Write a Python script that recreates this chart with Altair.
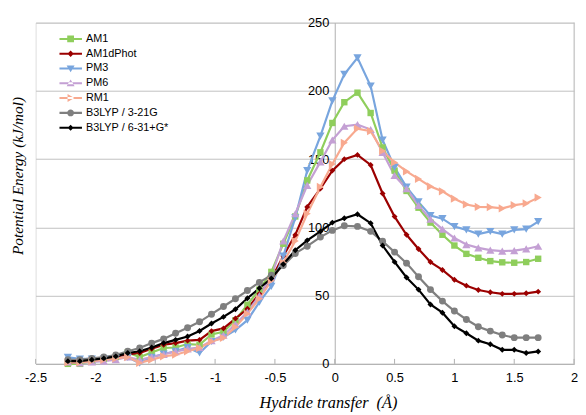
import altair as alt
import pandas as pd

x_vals = [-2.23, -2.13, -2.03, -1.93, -1.83, -1.73, -1.63, -1.53, -1.43, -1.33,
          -1.23, -1.13, -1.03, -0.93, -0.83, -0.73, -0.63, -0.53, -0.43, -0.33,
          -0.23, -0.12, -0.02, 0.08, 0.19, 0.30, 0.40, 0.50, 0.60, 0.70,
          0.80, 0.90, 1.00, 1.10, 1.20, 1.30, 1.40, 1.50, 1.60, 1.70]

series_names = ["AM1", "AM1dPhot", "PM3", "PM6", "RM1", "B3LYP / 3-21G", "B3LYP / 6-31+G*"]

am1 = [0, 0, 2, 3.6, 5, 8.4, 5, 8.4, 11.6, 12, 14.5, 14, 21.5, 23.5, 32, 43.3, 54.4, 67.4, 88, 108,
       134.4, 155, 176.5, 191.7, 198.7, 183.8, 158.5, 141.6, 126.7, 114.4, 103.5, 94.6, 86.7, 80.6,
       77.7, 75.3, 74.4, 74.1, 74.6, 77]
am1dphot = [1, 1, 2, 3, 5, 7, 8, 11, 14, 15.2, 17, 17.6, 24, 26, 33.2, 40.4, 51.3, 62.1, 79, 94.5,
            115, 128.4, 141.6, 150, 153.1, 145.7, 124.8, 107.9, 94.6, 84.2, 74.6, 68.8, 61.6, 57.3,
            54.1, 52.5, 51.3, 51.3, 51.7, 52.9]
pm3 = [4.8, 3.6, 3.6, 3.6, 4, 4.8, 0.5, 4.8, 7.2, 9.2, 12, 8, 16.4, 19.5, 24.8, 32, 45.2, 56.8, 79, 107,
       141.6, 166.9, 192.7, 212.2, 224.2, 203.5, 164, 144, 129.5, 118.7, 108.6, 106.4, 100.6, 98.2,
       95.1, 97, 95.1, 98.2, 98.7, 104.2]
pm6 = [1.4, 0.7, 1.5, 2, 3, 5, 3, 5, 7, 9, 11, 12, 17, 21, 29, 38, 50, 64, 90, 110,
       130.8, 148, 164, 174.1, 175.3, 171.7, 154.9, 138, 128.3, 116, 106, 98.7, 92.2, 87.4,
       85, 83.3, 82.6, 83, 84.2, 86.2]
rm1 = [1, 1, 2, 3, 4, 5, 0.7, 3.1, 5.5, 6.7, 9.2, 11.6, 16.4, 19, 27, 36.8, 47.7, 60.9, 74.2, 90,
       110, 129.6, 146.4, 162, 172.4, 170.5, 156, 147.6, 141, 135.5, 130, 126.4, 121, 116.8,
       115, 114.8, 113.9, 116.3, 117.5, 121.8]
b3lyp_321 = [3, 3, 4, 5, 6.5, 9.2, 11.6, 15.2, 18.3, 22.4, 26.5, 30.8, 36.4, 42, 47.7, 53.7, 59.7, 65, 72, 80.9,
             86.2, 92.9, 97.8, 101.2, 100.7, 97.1, 89.8, 81.9, 73.8, 63.8, 54.4, 46, 38.7, 32.5,
             27.2, 24, 21.1, 19.2, 19.2, 19.2]
b3lyp_631 = [2, 2, 3, 4, 5.5, 8, 9.2, 12, 15.2, 17.6, 20, 24.1, 29.6, 34.4, 40, 48.1, 55.4, 62.6, 73, 83.3,
             90.5, 97, 103.5, 106.7, 109.6, 103.1, 86.7, 74.7, 63.3, 54.4, 43.5, 37.5, 27.6, 22.4,
             17, 14.4, 10.3, 10.3, 7.9, 9.1]

all_vals = [am1, am1dphot, pm3, pm6, rm1, b3lyp_321, b3lyp_631]
colors = ["#8fce5c", "#9b0000", "#78a5de", "#c4a0d4", "#f8a98f", "#7f7f7f", "#000000"]
shapes = ["square", "diamond", "triangle-down", "triangle-up", "triangle-right", "circle", "diamond"]
marker_sizes = [42, 36, 70, 70, 70, 49, 36]
BAR = "M-1,-0.09H1V0.09H-1Z"
legend_paths = [
    BAR + "M-0.3,-0.3H0.3V0.3H-0.3Z",
    BAR + "M0,-0.28L0.28,0L0,0.28L-0.28,0Z",
    BAR + "M-0.35,-0.27L0.35,-0.27L0,0.33Z",
    BAR + "M-0.35,0.27L0.35,0.27L0,-0.33Z",
    BAR + "M-0.27,-0.35L-0.27,0.35L0.33,0Z",
    BAR + "M0.3,0A0.3,0.3 0 1,1 -0.3,0A0.3,0.3 0 1,1 0.3,0Z",
    BAR + "M0,-0.26L0.26,0L0,0.26L-0.26,0Z",
]
x_ticks = [-2.5, -2, -1.5, -1, -0.5, 0, 0.5, 1, 1.5, 2]
y_ticks = [0, 50, 100, 150, 200, 250]
border_x = [2.0]
x_title = "Hydride transfer\u00a0\u00a0(Å)"
y_title = "Potential Energy (kJ/mol)"

rows = []
for name, vals in zip(series_names, all_vals):
    for xv, yv in zip(x_vals, vals):
        rows.append({"series": name, "x": xv, "y": yv})
df = pd.DataFrame(rows)

W, H = 546, 346
y_axis_px = W * 2.5 / 4.5

x_scale = alt.Scale(domain=[-2.5, 2], nice=False, zero=False)
y_scale = alt.Scale(domain=[0, 250], nice=False)
color_scale = alt.Scale(domain=series_names, range=colors)

x_axis = alt.Axis(values=x_ticks, title=x_title, grid=False, ticks=False, tickSize=0,
                  labelPadding=8, labelFont="Liberation Sans", labelFontSize=13, labelColor="#000",
                  labelExpr="datum.value + ''",
                  domainColor="#b0b0b0", domainWidth=1,
                  titleFont="Liberation Serif", titleFontStyle="italic", titleFontWeight="normal",
                  titleFontSize=16.5, titleColor="#000", titleX=296.5, titleY=44.5,
                  titleBaseline="alphabetic", titleAlign="center", labelFlush=False, labelOverlap=False)
y_axis = alt.Axis(values=y_ticks, title=y_title, grid=True, gridColor="#c0c0c0",
                  gridWidth=1, ticks=False, tickSize=0, labelPadding=6, offset=-y_axis_px,
                  labelFont="Liberation Sans", labelFontSize=13, labelColor="#000",
                  labelExpr="datum.value + ''",
                  domainColor="#b0b0b0", domainWidth=1,
                  titleFont="Liberation Serif", titleFontStyle="italic", titleFontWeight="normal",
                  titleFontSize=15.5, titleColor="#000", titleAngle=-90, titleX=-18 - y_axis_px,
                  titleY=155, titleBaseline="middle", titleAlign="center", labelFlush=False,
                  labelOverlap=False)

legend_spec = alt.Legend(
    title=None, orient="none", legendX=24, legendY=9, symbolSize=529, clipHeight=15,
    rowPadding=0, labelFontSize=11, labelFont="Liberation Sans", labelColor="#000",
    labelOffset=4, symbolStrokeWidth=0, symbolOpacity=1, padding=0, direction="vertical",
)

base = alt.Chart(df)

lines = base.mark_line(strokeWidth=2.2).encode(
    x=alt.X("x:Q", scale=x_scale, axis=x_axis),
    y=alt.Y("y:Q", scale=y_scale, axis=y_axis),
    color=alt.Color("series:N", scale=color_scale, legend=None),
)

point_layers = []
for name, shp, sz in zip(series_names, shapes, marker_sizes):
    point_layers.append(
        base.transform_filter(alt.datum.series == name)
        .mark_point(filled=True, shape=shp, size=sz, opacity=1)
        .encode(
            x=alt.X("x:Q", scale=x_scale),
            y=alt.Y("y:Q", scale=y_scale),
            color=alt.Color("series:N", scale=color_scale, legend=None),
        )
    )

legend_layer = base.mark_point(opacity=0, filled=True).encode(
    x=alt.X("x:Q", scale=x_scale),
    y=alt.Y("y:Q", scale=y_scale),
    color=alt.Color("series:N", scale=color_scale, legend=legend_spec),
    shape=alt.Shape("series:N", scale=alt.Scale(domain=series_names, range=legend_paths),
                    legend=legend_spec),
)

tick_layer = alt.Chart(pd.DataFrame({"t": x_ticks})).mark_rule(color="#b0b0b0", strokeWidth=1).encode(
    x=alt.X("t:Q", scale=x_scale),
    y=alt.value(H),
    y2=alt.value(H - 5),
)

border_layer = alt.Chart(pd.DataFrame({"b": border_x})).mark_rule(color="#c0c0c0", strokeWidth=1).encode(
    x=alt.X("b:Q", scale=x_scale),
    y=alt.value(0),
    y2=alt.value(H),
)

chart = alt.layer(border_layer, tick_layer, lines, *point_layers, legend_layer).resolve_scale(
    color="independent", shape="independent"
).properties(
    width=W,
    height=H,
    autosize=alt.AutoSizeParams(type="none"),
    padding={"left": 28, "top": 12, "right": 4, "bottom": 49},
).configure_view(stroke=None).configure(background="white")

chart.save("out.html", embed_options={"renderer": "svg", "actions": False})
